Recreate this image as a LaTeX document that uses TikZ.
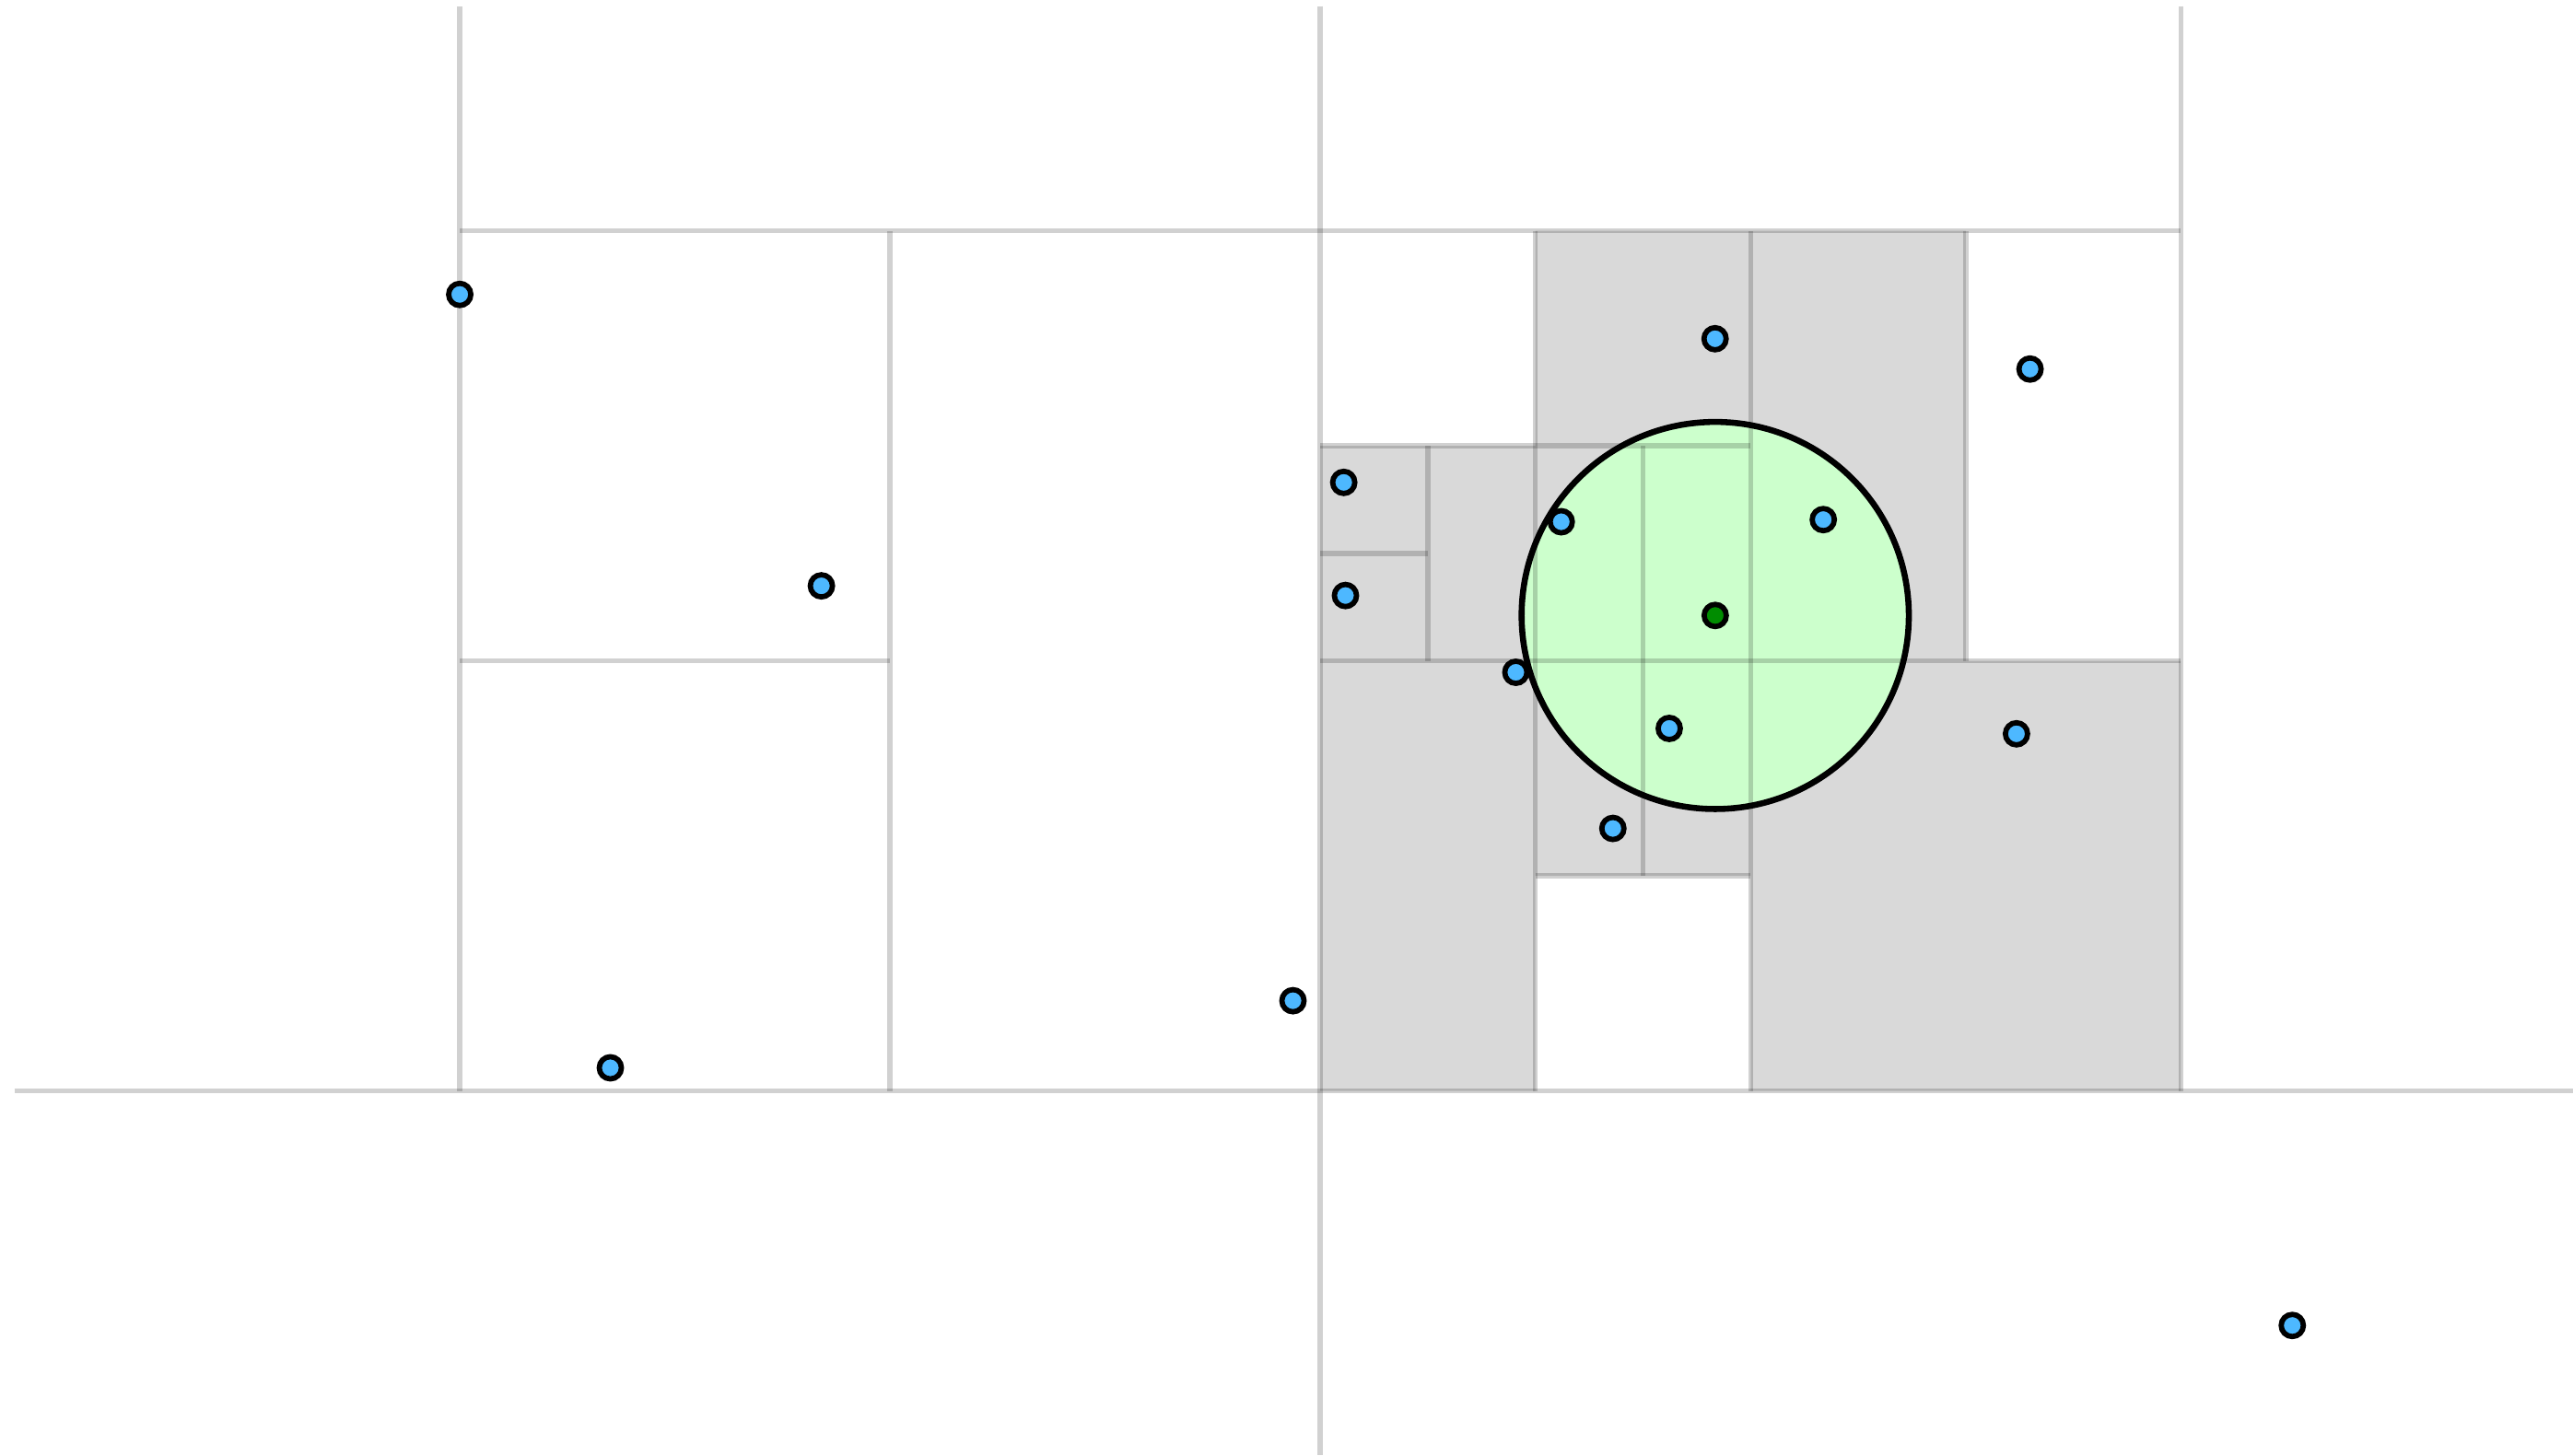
\documentclass[tikz,border=0pt]{standalone}
\usepackage{tikz}
\definecolor{ptblue}{RGB}{77,184,255}

\begin{document}
\begin{tikzpicture}[scale=1.5,
  grid/.style={black,opacity=0.18,line width=1pt},
  pt/.style={circle,draw=black,fill=ptblue,line width=1.05pt,inner sep=0pt,minimum size=4.4pt}]
  \useasboundingbox (-2.137,-1.693) rectangle (9.823,5.073);
  % cells reached by the query
  \fill[black!15] (5,3) rectangle (6,4) (6,2) rectangle (7,4)
    (4,2.5) rectangle (4.5,3) (4,2) rectangle (4.5,2.5) (4.5,2) rectangle (5,3)
    (5,2) rectangle (5.5,3) (5.5,2) rectangle (6,3)
    (5,1) rectangle (5.5,2) (5.5,1) rectangle (6,2)
    (4,0) rectangle (5,2) (6,0) rectangle (8,2);
  % query disc
  \coordinate (c) at (5.835,2.211);
  \filldraw[fill=green!20,draw=black,line width=1.2pt] (c) circle (0.90);
  % outer lines
  \draw[grid] (0,5.045) -- (0,0);
  \draw[grid] (4,5.045) -- (4,-1.693);
  \draw[grid] (8,5.045) -- (8,0);
  \draw[grid] (-2.07,0) -- (9.823,0);
  \draw[grid] (0,4) -- (8,4);
  \draw[grid] (2,0) -- (2,4);
  \draw[grid] (0,2) -- (2,2);
  % splits on the right
  \draw[grid] (5,0) -- (5,4);
  \draw[grid] (6,0) -- (6,4);
  \draw[grid] (7,2) -- (7,4);
  \draw[grid] (4,2) -- (8,2);
  \draw[grid] (4,3) -- (6,3);
  \draw[grid] (4,2.5) -- (4.5,2.5);
  \draw[grid] (4.5,2) -- (4.5,3);
  \draw[grid] (5.5,1) -- (5.5,3);
  \draw[grid] (5,1) -- (6,1);
  % points
  \node[pt] (p1) at (0,3.704) {};
  \node[pt] (p2) at (1.681,2.349) {};
  \node[pt] (p3) at (0.700,0.108) {};
  \node[pt] (p4) at (3.873,0.420) {};
  \node[pt] (p5) at (4.109,2.830) {};
  \node[pt] (p6) at (4.117,2.304) {};
  \node[pt] (p7) at (5.120,2.647) {};
  \node[pt] (p8) at (4.909,1.947) {};
  \node[pt] (p9) at (5.835,3.498) {};
  \node[pt] (p10) at (6.338,2.657) {};
  \node[pt] (p11) at (5.622,1.686) {};
  \node[pt] (p12) at (5.360,1.221) {};
  \node[pt] (p13) at (7.299,3.357) {};
  \node[pt] (p14) at (7.236,1.661) {};
  \node[pt] (p15) at (8.518,-1.090) {};
  % query point
  \node[pt,fill=green!55!black] (q) at (c) {};
\end{tikzpicture}
\end{document}
